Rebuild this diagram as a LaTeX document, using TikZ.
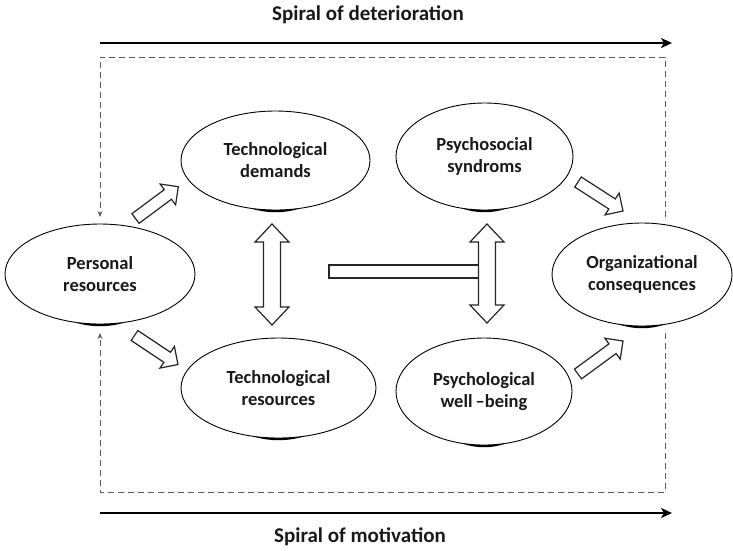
\documentclass[tikz,border=0pt]{standalone}
\usepackage{fontspec}
\setmainfont{Carlito}
\usetikzlibrary{calc,arrows.meta,shapes.geometric}
\tikzset{
 bub/.style={ellipse, draw=black, line width=0.9pt, fill=white, inner sep=0pt, align=center,
   text=black!90, font=\fontsize{18.5}{22}\selectfont\bfseries},
 blk/.style={draw=black!85, line width=1.2pt, fill=white, line join=miter},
 dsh/.style={draw=black!65, line width=1pt, dash pattern=on 6pt off 4pt},
 dtip/.style={-{Stealth[length=6pt,width=5pt]}},
 spiral/.style={line width=2.6pt, -{Stealth[length=11pt,width=10pt,inset=3pt]}},
 ttl/.style={font=\fontsize{21}{25}\selectfont\bfseries, inner sep=0pt, text=black!90}
}
\newcommand\bubble[6]{% name, x, y, width, height, text
  \fill[black] (#2,#3+2.2) ellipse [x radius=0.34*#4, y radius=0.5*#5];
  \node[bub, minimum width=#4pt, minimum height=#5pt] (#1) at (#2,#3) {#6};}
\newcommand\blockarrow[2]{% tail, tip
  \coordinate (tmpH) at ($(#2)!13pt!(#1)$);
  \draw[blk] ($(#1)!6pt!90:(#2)$) -- ($(tmpH)!6pt!-90:(#1)$) -- ($(tmpH)!13pt!-90:(#1)$)
    -- (#2) -- ($(tmpH)!13pt!90:(#1)$) -- ($(tmpH)!6pt!90:(#1)$) -- ($(#1)!6pt!-90:(#2)$) -- cycle;}
\newcommand\dblarrow[2]{% top tip, bottom tip (vertical)
  \draw[blk] (#1) -- ++(17,18) -- ++(-8.5,0) -- ($(#2)+(8.5,-18)$) -- ++(8.5,0) -- (#2)
    -- ++(-17,-18) -- ++(8.5,0) -- ($(#1)+(-8.5,18)$) -- ++(-8.5,0) -- cycle;}
\begin{document}
\begin{tikzpicture}[x=1pt,y=-1pt]
\useasboundingbox (0,0) rectangle (733,550);

% titles and spiral arrows
\node[ttl] (tdet) at (368,15) {Spiral of deterioration};
\node[ttl] (tmot) at (360,537) {Spiral of motivation};
\coordinate (s1a) at (100,43);  \coordinate (s1b) at (672,43);
\coordinate (s2a) at (100,513); \coordinate (s2b) at (672,513);
\draw[spiral] (s1a) -- (s1b);
\draw[spiral] (s2a) -- (s2b);

% dashed feedback loops
\coordinate (d1) at (665,217); \coordinate (d2) at (665,57);
\coordinate (d3) at (100,57);  \coordinate (d4) at (100,217);
\coordinate (e1) at (665,333); \coordinate (e2) at (665,492);
\coordinate (e3) at (100,492); \coordinate (e4) at (100,333);
\draw[dsh,dtip] (d1) -- (d2) -- (d3) -- (d4);
\draw[dsh,dtip] (e1) -- (e2) -- (e3) -- (e4);

% ellipses
\bubble{PR}{100}{274}{190}{100}{Personal\\resources}
\bubble{TD}{275.5}{160.5}{189}{99}{Technological\\demands}
\bubble{TR}{278.5}{388}{195}{100}{Technological\\resources}
\bubble{PS}{484.5}{156.5}{177}{107}{Psychosocial\\syndroms}
\bubble{PW}{484}{391.5}{176}{107}{Psychological\\well\,--being}
\bubble{OC}{642}{274.5}{180}{103}{Organizational\\consequences}

% block arrows
\coordinate (a1) at (135.5,218.5); \coordinate (b1) at (178.3,186.7);
\coordinate (a2) at (134.5,335.5); \coordinate (b2) at (178,364.5);
\coordinate (a3) at (578,182);     \coordinate (b3) at (623,211);
\coordinate (a4) at (578,374);     \coordinate (b4) at (623,341);
\blockarrow{a1}{b1}
\blockarrow{a2}{b2}
\blockarrow{a3}{b3}
\blockarrow{a4}{b4}

% horizontal bar and vertical double arrows
\coordinate (barL) at (329,265); \coordinate (barR) at (479,278);
\draw[blk] (barL) rectangle (barR);
\coordinate (v1t) at (272,224); \coordinate (v1b) at (272,325);
\coordinate (v2t) at (487,224); \coordinate (v2b) at (487,323);
\dblarrow{v1t}{v1b}
\dblarrow{v2t}{v2b}
\end{tikzpicture}
\end{document}
